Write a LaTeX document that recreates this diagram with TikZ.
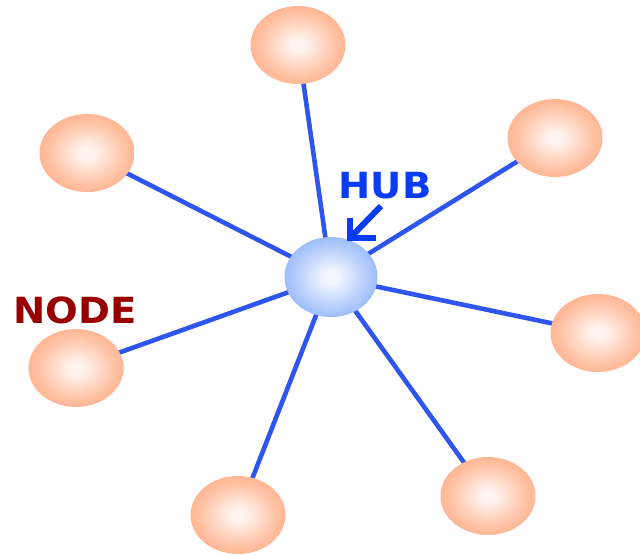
\documentclass[tikz,border=0pt]{standalone}
\usepackage{fontspec}
\setmainfont{DejaVu Sans}
\usetikzlibrary{shapes.geometric}

\definecolor{stationcore}{HTML}{FFF3EE}
\definecolor{stationmid}{HTML}{FFC2A4}
\definecolor{stationedge}{HTML}{FF9D72}
\definecolor{hubcore}{HTML}{F2F6FF}
\definecolor{hubmid}{HTML}{B0CAFB}
\definecolor{hubedge}{HTML}{76A2F6}
\definecolor{linkblue}{HTML}{2E55EE}
\definecolor{nodered}{HTML}{990000}
\definecolor{hubblue}{HTML}{0A3CF5}

% soft spheres for the stations and the hub
\pgfdeclareradialshading{stationball}{\pgfpoint{0bp}{0bp}}{%
  color(0bp)=(stationcore); color(4bp)=(stationcore);
  color(20bp)=(stationmid); color(36bp)=(stationedge); color(50bp)=(stationedge)}
\pgfdeclareradialshading{hubball}{\pgfpoint{0bp}{0bp}}{%
  color(0bp)=(hubcore); color(4bp)=(hubcore);
  color(20bp)=(hubmid); color(36bp)=(hubedge); color(50bp)=(hubedge)}

% wide bold lettering for the two labels
\newcommand{\widetag}[1]{\scalebox{1.07}[1]{#1}}

\tikzset{
  station/.style={ellipse, minimum width=95pt, minimum height=78pt,
    inner sep=0pt, shading=stationball},
  hubball/.style={ellipse, minimum width=93pt, minimum height=80pt,
    inner sep=0pt, shading=hubball},
  link/.style={draw=linkblue, line width=4.6pt},
  pointer/.style={draw=hubblue, line width=6pt, miter limit=10},
  tag/.style={font=\bfseries\fontsize{36}{36}\selectfont, inner sep=0pt}
}

\begin{document}
\begin{tikzpicture}[x=1pt, y=-1pt]
  \useasboundingbox (0,0) rectangle (640,555);

  % centres of the hub and the surrounding stations
  \coordinate (ch) at (331,277);
  \coordinate (c1) at (298,45);
  \coordinate (c2) at (555,138);
  \coordinate (c3) at (598,333);
  \coordinate (c4) at (488,496);
  \coordinate (c5) at (238,515);
  \coordinate (c6) at (76,368);
  \coordinate (c7) at (87,153);

  % star links, drawn under the spheres
  \foreach \i in {1,...,7} \draw[link] (ch) -- (c\i);

  \node[hubball] (hub) at (ch) {};
  \node[station] (n1) at (c1) {};
  \node[station] (n2) at (c2) {};
  \node[station] (n3) at (c3) {};
  \node[station] (n4) at (c4) {};
  \node[station] (n5) at (c5) {};
  \node[station] (n6) at (c6) {};
  \node[station] (n7) at (c7) {};

  % labels
  \node[tag, text=hubblue] (hublabel) at (385,186) {\widetag{HUB}};
  \node[tag, text=nodered] (nodelabel) at (75,310) {\widetag{NODE}};

  % arrow from the HUB label down to the hub
  \coordinate (arrowstart) at (381,206);
  \coordinate (arrowtip) at (350,238);
  \draw[pointer] (arrowstart) -- (arrowtip);
  \draw[pointer] ([yshift=20pt]arrowtip) -- (arrowtip) -- ([xshift=26pt]arrowtip);
\end{tikzpicture}
\end{document}
